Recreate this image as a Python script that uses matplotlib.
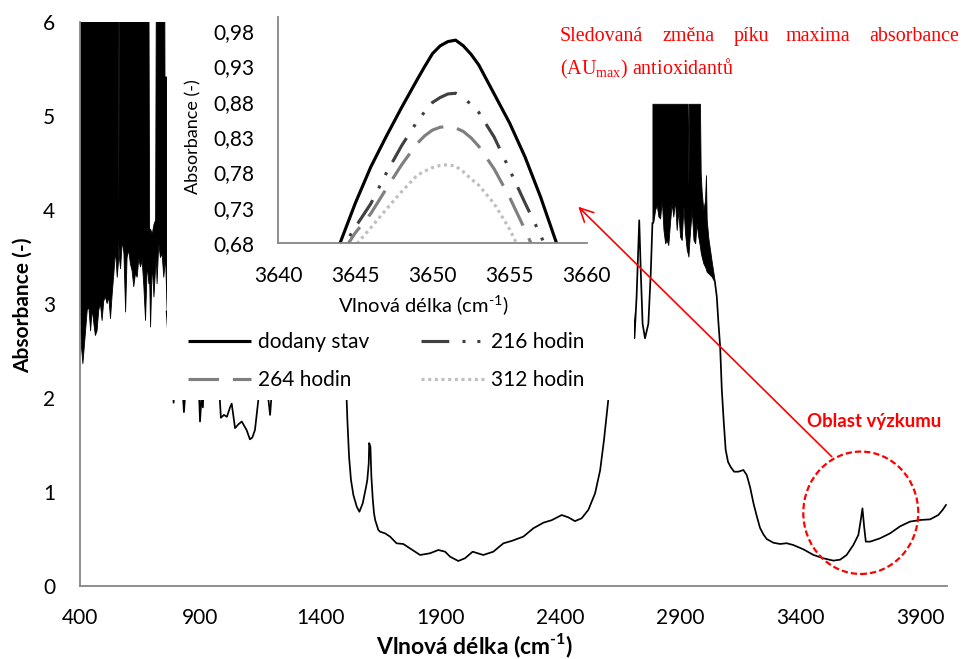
import matplotlib
matplotlib.use('Agg')
import matplotlib.pyplot as plt
from matplotlib.patches import Rectangle, Ellipse
from matplotlib.lines import Line2D

plt.rcParams['font.family'] = ['Lato', 'DejaVu Sans']
plt.rcParams['lines.scale_dashes'] = False
plt.rcParams['axes.unicode_minus'] = False

# ---------------- main spectrum data ----------------
# saturated noisy band 400-761 cm-1 (lower / upper envelope)
band1_x = [400, 403, 410, 418, 428, 435, 442, 449, 456, 462, 469, 476, 483, 490, 497,
           504, 511, 518, 525, 532, 539, 546, 553, 558, 560, 562, 567, 574, 581, 588,
           594, 601, 608, 615, 622, 629, 636, 643, 650, 657, 664, 671, 678, 685, 688,
           692, 699, 706, 713, 716, 719, 726, 733, 740, 747, 751, 752, 754, 761]
band1_low = [3.0, 2.58, 2.37, 2.62, 2.94, 2.97, 2.72, 2.95, 2.79, 2.67, 2.72, 2.94, 3.01, 2.83, 3.04,
             3.08, 3.01, 3.08, 2.85, 3.11, 3.33, 3.58, 3.29, 3.45, 3.65, 3.50, 3.38, 3.68, 3.54, 2.92,
             3.50, 3.58, 3.43, 3.36, 3.19, 3.33, 3.29, 3.49, 3.40, 3.47, 3.19, 2.83, 3.43, 3.22, 3.30,
             2.76, 3.45, 3.08, 3.40, 3.50, 3.22, 3.65, 3.50, 3.54, 3.29, 3.40, 3.45, 3.54, 2.92]
band1_high = [6.5, 6.5, 6.5, 6.5, 6.5, 6.5, 6.5, 6.5, 6.5, 6.5, 6.5, 6.5, 6.5, 6.5, 6.5,
              6.5, 6.5, 6.5, 6.5, 6.5, 6.5, 6.5, 6.5, 6.5, 4.0, 6.5, 6.5, 6.5, 6.5, 6.5,
              6.5, 6.5, 6.5, 6.5, 6.5, 6.5, 6.5, 6.5, 6.5, 6.5, 6.5, 6.5, 6.5, 6.5, 3.8,
              3.8, 3.75, 3.85, 3.9, 6.5, 6.5, 6.5, 6.5, 6.5, 6.5, 6.5, 5.42, 5.42, 5.42]

# continuous trace 761-2785 cm-1
line1_x = [761, 770, 785, 790, 795, 815, 825, 833, 840, 860, 885, 896, 900, 906, 912, 918,
           950, 980, 987, 1000, 1012, 1025, 1032, 1046, 1060, 1074, 1085, 1094, 1108, 1118,
           1129, 1143, 1150, 1170, 1180, 1192, 1200, 1215, 1300, 1400, 1480, 1511, 1514,
           1521, 1529, 1539, 1553, 1564, 1578, 1592, 1597, 1603, 1605, 1610, 1614, 1620,
           1625, 1630, 1643, 1650, 1671, 1692, 1719, 1747, 1775, 1817, 1858, 1893, 1921,
           1942, 1976, 2004, 2036, 2080, 2122, 2164, 2199, 2247, 2289, 2331, 2365, 2407,
           2435, 2462, 2490, 2518, 2546, 2567, 2583, 2601, 2630, 2660, 2690, 2705, 2710,
           2719, 2730, 2737, 2744, 2754, 2768, 2778, 2785]
line1_y = [2.92, 2.6, 2.3, 1.95, 2.2, 2.6, 2.2, 1.85, 2.1, 2.6, 2.5, 2.05, 1.75, 2.0, 1.9, 2.3,
           2.6, 2.1, 1.79, 1.82, 1.80, 1.90, 1.94, 1.68, 1.72, 1.75, 1.70, 1.66, 1.56, 1.58,
           1.66, 1.98, 2.4, 2.5, 2.1, 1.82, 2.1, 2.6, 3.2, 3.4, 2.8, 1.98, 1.766,
           1.376, 1.128, 0.968, 0.844, 0.79, 0.88, 1.056, 1.128, 1.305, 1.52, 1.48, 1.163, 0.915,
           0.773, 0.70, 0.596, 0.578, 0.56, 0.525, 0.454, 0.447, 0.40, 0.33, 0.348, 0.383, 0.365,
           0.312, 0.266, 0.295, 0.365, 0.33, 0.365, 0.454, 0.48, 0.525, 0.614, 0.674, 0.70, 0.755,
           0.73, 0.69, 0.72, 0.81, 0.986, 1.23, 1.55, 1.98, 3.2, 4.8, 4.0, 2.9, 2.635,
           3.08, 3.89, 3.3, 2.79, 2.635, 2.79, 3.33, 3.86]

# saturated noisy band 2785-3046 cm-1
band2_x = [2785, 2789, 2796, 2803, 2810, 2817, 2824, 2831, 2838, 2844, 2851, 2858, 2865, 2872,
           2879, 2886, 2893, 2900, 2907, 2914, 2921, 2928, 2932, 2935, 2937, 2942, 2949, 2956,
           2963, 2969, 2976, 2983, 2986, 2990, 2997, 3004, 3008, 3011, 3018, 3032, 3046]
band2_low = [3.86, 3.876, 4.0, 4.054, 3.93, 3.91, 4.107, 3.788, 3.646, 3.681, 3.628, 3.859, 4.071, 3.93,
             4.107, 3.788, 4.0, 3.717, 3.681, 4.036, 3.752, 3.575, 3.54, 3.504, 3.6, 3.788, 4.0, 3.681,
             3.646, 3.859, 3.717, 3.61, 3.55, 3.504, 3.433, 3.397, 3.37, 3.344, 3.327, 3.291, 3.22]
band2_high = [5.13, 5.13, 5.13, 5.13, 5.13, 5.13, 5.13, 5.13, 5.13, 5.13, 5.13, 5.13, 5.13, 5.13,
              5.13, 5.13, 5.13, 5.13, 5.13, 5.13, 5.13, 5.13, 5.13, 4.25, 5.13, 5.13, 5.13, 5.13,
              5.13, 5.13, 5.13, 5.13, 4.4, 4.2, 4.0, 4.1, 4.37, 3.9, 3.7, 3.45, 3.22]

# continuous trace 3046-4008 cm-1
line2_x = [3046, 3053, 3060, 3067, 3074, 3082, 3090, 3100, 3110, 3125, 3143, 3164, 3178, 3192,
           3206, 3219, 3233, 3247, 3261, 3289, 3317, 3344, 3372, 3414, 3456, 3497, 3539, 3567,
           3594, 3622, 3643, 3653, 3660, 3667, 3674, 3692, 3733, 3775, 3817, 3858, 3900, 3942,
           3976, 3994, 4008]
line2_y = [3.22, 3.08, 2.8, 2.55, 2.09, 1.75, 1.45, 1.32, 1.27, 1.216, 1.216, 1.234, 1.18, 1.05,
           0.88, 0.75, 0.62, 0.55, 0.50, 0.46, 0.447, 0.455, 0.436, 0.39, 0.33, 0.295, 0.27, 0.28,
           0.33, 0.436, 0.543, 0.702, 0.826, 0.631, 0.472, 0.472, 0.507, 0.56, 0.635, 0.685, 0.702, 0.709,
           0.755, 0.809, 0.862]

main_xticks = [400, 900, 1400, 1900, 2400, 2900, 3400, 3900]
main_yticks = [0, 1, 2, 3, 4, 5, 6]

# ---------------- inset data ----------------
inset_x = [3643, 3644, 3645, 3646, 3647, 3648, 3649, 3649.5, 3650, 3650.5, 3651, 3651.5,
           3652, 3652.5, 3653, 3654, 3655, 3656, 3657, 3658, 3659]
dodany_stav = [0.63, 0.68, 0.737, 0.788, 0.831, 0.872, 0.911, 0.930, 0.948, 0.959, 0.965, 0.967,
               0.959, 0.947, 0.932, 0.891, 0.850, 0.802, 0.746, 0.683, 0.62]
hodin_216 = [0.62, 0.668, 0.703, 0.736, 0.779, 0.818, 0.852, 0.866, 0.879, 0.886, 0.891, 0.892,
             0.886, 0.876, 0.865, 0.830, 0.784, 0.737, 0.692, 0.64, 0.59]
hodin_264 = [0.61, 0.662, 0.695, 0.722, 0.757, 0.791, 0.821, 0.832, 0.840, 0.844, 0.845, 0.843,
             0.838, 0.829, 0.817, 0.785, 0.745, 0.699, 0.65, 0.60, 0.55]
hodin_312 = [0.62, 0.652, 0.677, 0.702, 0.728, 0.753, 0.776, 0.782, 0.787, 0.790, 0.791, 0.789,
             0.781, 0.771, 0.762, 0.736, 0.700, 0.655, 0.60, 0.55, 0.50]
inset_xticks = [3640, 3645, 3650, 3655, 3660]
inset_yticks = [0.68, 0.73, 0.78, 0.83, 0.88, 0.93, 0.98]
inset_ytick_labels = ['0,68', '0,73', '0,78', '0,83', '0,88', '0,93', '0,98']

series_labels = ['dodany stav', '216 hodin', '264 hodin', '312 hodin']

# ---------------- figure ----------------
W, H = 963, 659
fig = plt.figure(figsize=(W / 100, H / 100), dpi=100)
GRAY = '#868686'
XLABEL = 'Vlnová délka (cm$^{\\mathregular{\u2010 1}}$)'.replace('\u2010 ', '\u2010')

ax = fig.add_axes([80 / W, 73 / H, 866.7 / W, 564 / H])
ax.fill_between(band1_x, band1_low, band1_high, color='black', linewidth=0.6, zorder=2)
ax.fill_between(band2_x, band2_low, band2_high, color='black', linewidth=0.6, zorder=2)
ax.plot(line1_x, line1_y, color='black', lw=1.25, zorder=2)
ax.plot(line2_x, line2_y, color='black', lw=1.25, zorder=2)
ax.set_xlim(400, 4011)
ax.set_ylim(0, 6)
ax.set_xticks(main_xticks)
ax.set_yticks(main_yticks)
ax.tick_params(length=0, labelsize=15, colors='black')
ax.tick_params(axis='x', pad=16)
ax.tick_params(axis='y', pad=18)
for s in ['top', 'right']:
    ax.spines[s].set_visible(False)
for s in ['left', 'bottom']:
    ax.spines[s].set_color(GRAY)
    ax.spines[s].set_linewidth(1.3)

# white chart-area of the inset covering part of the spectrum
ax.add_patch(Rectangle((167 / W, 1 - 400 / H), (634 - 167) / W, 400 / H,
                       transform=fig.transFigure, facecolor='white', edgecolor='none',
                       zorder=3, clip_on=False))

fig.text(475 / W, 1 - 646 / H, XLABEL, ha='center', va='center',
         fontsize=16.5, fontweight='bold')
fig.text(23 / W, 1 - 305 / H, 'Absorbance (-)', ha='center', va='center', rotation=90,
         fontsize=15, fontweight='bold')

# research region annotation
ax.add_patch(Ellipse((3653, 0.779), 479, 1.302, fill=False, edgecolor='#FF0000', lw=1.6,
                     linestyle=(0, (4.5, 2.2)), zorder=6, clip_on=False))
ax.annotate('', xy=(2476, 4.035), xytext=(3532, 1.376),
            arrowprops=dict(arrowstyle='->', color='#FF0000', lw=1.2, shrinkA=0, shrinkB=0,
                            mutation_scale=24), zorder=6, annotation_clip=False)
ax.text(3708, 1.75, 'Oblast výzkumu', color='#FF0000', fontsize=13.4, fontweight='bold',
        ha='center', va='center', zorder=6)

# ---------------- inset ----------------
ax2 = fig.add_axes([278.3 / W, 1 - 243.3 / H, 308.4 / W, 226.5 / H])
ax2.set_facecolor('none')
l0, = ax2.plot(inset_x, dodany_stav, color='black', lw=2.25, solid_capstyle='butt')
l1, = ax2.plot(inset_x, hodin_216, color='#404040', lw=2.25,
               linestyle=(0, (20, 9.5, 2.2, 8.5, 2.2, 8.5)))
l2, = ax2.plot(inset_x, hodin_264, color='#7F7F7F', lw=2.25, linestyle=(0, (22, 10)))
l3, = ax2.plot(inset_x, hodin_312, color='#BFBFBF', lw=2.25, linestyle=(0, (2.2, 2.6)))
ax2.set_xlim(3640, 3660)
ax2.set_ylim(0.68, 1.0)
ax2.set_xticks(inset_xticks)
ax2.set_yticks(inset_yticks)
ax2.set_yticklabels(inset_ytick_labels)
ax2.tick_params(length=0, labelsize=15, colors='black')
ax2.tick_params(axis='x', pad=16)
ax2.tick_params(axis='y', pad=17)
for s in ['top', 'right']:
    ax2.spines[s].set_visible(False)
for s in ['left', 'bottom']:
    ax2.spines[s].set_color(GRAY)
    ax2.spines[s].set_linewidth(1.3)
fig.text(193 / W, 1 - 137 / H, 'Absorbance (-)', ha='center', va='center', rotation=90,
         fontsize=13)
fig.text(423 / W, 1 - 306 / H, XLABEL, ha='center', va='center', fontsize=14.5)

handles = [l0, l2, l1, l3]
labels = [series_labels[0], series_labels[2], series_labels[1], series_labels[3]]
fig.legend(handles, labels, loc='upper left', bbox_to_anchor=(188 / W, 1 - 332 / H), ncol=2,
           frameon=False, borderpad=0, borderaxespad=0, handlelength=3.0, handletextpad=0.35,
           columnspacing=2.5, labelspacing=0.87, fontsize=15)

# red description text (justified first line)
serif = ['Liberation Serif', 'DejaVu Serif']
words = ['Sledovaná', 'změna', 'píku', 'maxima', 'absorbance']
word_px = [560, 662.7, 733.3, 785.5, 869.3]
for w_, px in zip(words, word_px):
    fig.text(px / W, 1 - 40.7 / H, w_, color='#FF0000', fontsize=14.4, family=serif,
             ha='left', va='baseline')
fig.text(560 / W, 1 - 74 / H, '(AU$_{\\mathregular{max}}$) antioxidantů', color='#FF0000',
         fontsize=14.4, family=serif, ha='left', va='baseline')

fig.savefig('out.png', dpi=100)
